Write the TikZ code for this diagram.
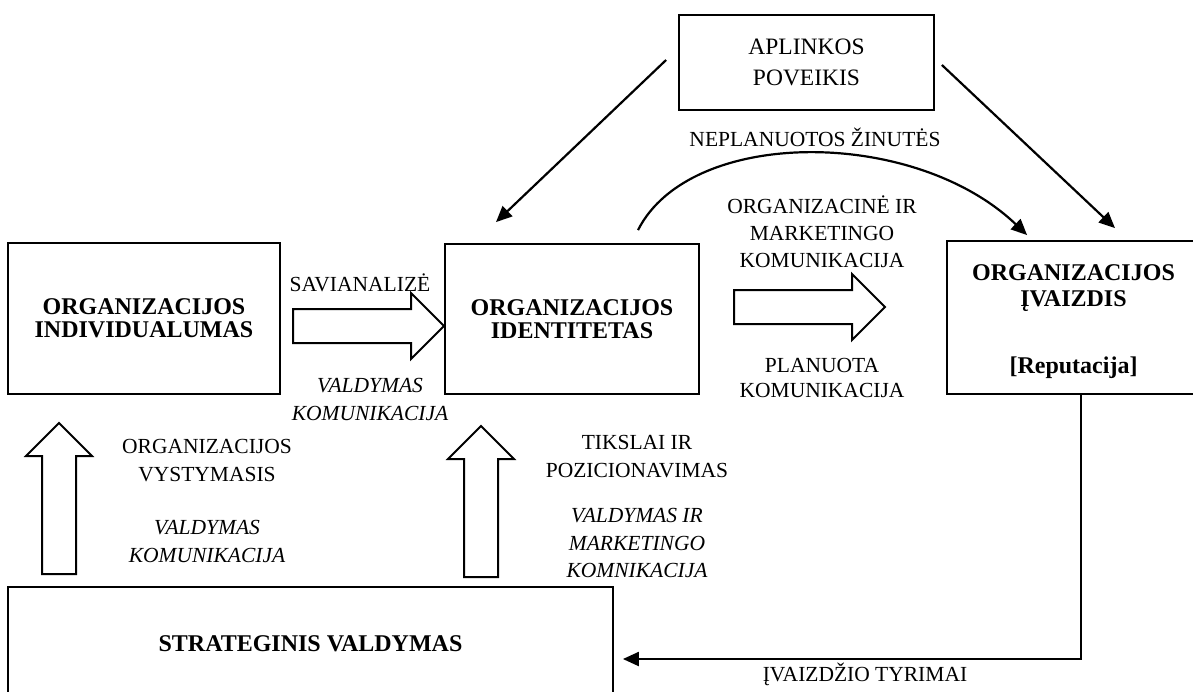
\documentclass[tikz,border=0pt]{standalone}
\usepackage{fontspec}
\setmainfont{Liberation Serif}
\usetikzlibrary{arrows.meta, shapes.arrows}

\begin{document}
\begin{tikzpicture}[x=1pt, y=-1pt,
  box/.style={rectangle, draw, line width=1.8pt, align=center,
     font=\bfseries\fontsize{24}{23}\selectfont},
  lbl/.style={align=center, inner sep=0pt, font=\fontsize{21.5}{28}\selectfont},
  ilbl/.style={lbl, font=\itshape\fontsize{21.5}{28}\selectfont},
  link/.style={line width=2.2pt, -{Triangle[length=16pt, width=14pt]}},
  fatarrow/.style={single arrow, draw, line width=2pt, inner sep=16pt,
     single arrow head extend=16pt, single arrow tip angle=90,
     minimum height=151pt, anchor=tail}]
  \useasboundingbox (0,0) rectangle (1193,691);
  \clip (0,0) rectangle (1193,691);
  % boxes
  \node[box, minimum width=255pt, minimum height=95pt,
     font=\fontsize{23.5}{31}\selectfont] (env) at (806.5,62.5) {APLINKOS\\POVEIKIS};
  \node[box, minimum width=272pt, minimum height=151pt] (indiv) at (144,318.5)
     {ORGANIZACIJOS\\INDIVIDUALUMAS};
  \node[box, minimum width=254pt, minimum height=150pt] (ident) at (572,319)
     {ORGANIZACIJOS\\IDENTITETAS};
  \node[box, minimum width=253pt, minimum height=153pt,
     font=\bfseries\fontsize{24}{26}\selectfont] (image) at (1073.5,317.5)
     {\rule{0pt}{24.5pt}ORGANIZACIJOS\\ĮVAIZDIS\\[41pt]{[Reputacija]}};
  \node[box, minimum width=605pt, minimum height=113pt] (strat) at (310.5,643.5)
     {STRATEGINIS VALDYMAS};
  % block arrows
  \node[fatarrow] (savArrow) at (292,326) {};
  \node[fatarrow] (planArrow) at (733,307) {};
  \node[fatarrow, shape border rotate=90] (vystArrow) at (59,575) {};
  \node[fatarrow, shape border rotate=90] (poziArrow) at (481,578) {};
  % connectors
  \draw[link] ([shift={(-12,-2.5)}]env.west) -- ([shift={(-76,-21)}]ident.north);
  \draw[link] ([shift={(7,2.5)}]env.east) -- ([shift={(41.5,-12)}]image.north);
  \draw[link] ([shift={(66,-13)}]ident.north) .. controls +(52,-103) and +(-113,-108)
     .. ([shift={(81,-5)}]image.north west);
  \draw[link] ([xshift=7.5pt]image.south) |- ([shift={(9,15.5)}]strat.east);
  % labels
  \node[lbl] (lNeplan) at (815,137) {NEPLANUOTOS ŽINUTĖS};
  \node[lbl, font=\fontsize{21.5}{27}\selectfont] (lOrgMark) at (822,232)
     {ORGANIZACINĖ IR\\MARKETINGO\\KOMUNIKACIJA};
  \node[lbl, font=\fontsize{21.5}{25}\selectfont] (lPlan) at (822,377.5)
     {PLANUOTA\\KOMUNIKACIJA};
  \node[lbl] (lSav) at (360,283) {SAVIANALIZĖ};
  \node[ilbl] (lValdKomA) at (370,399) {VALDYMAS\\KOMUNIKACIJA};
  \node[lbl] (lOrgVyst) at (207,461) {ORGANIZACIJOS\\VYSTYMASIS};
  \node[ilbl] (lValdKomB) at (207,541) {VALDYMAS\\KOMUNIKACIJA};
  \node[lbl] (lTiksl) at (637,457) {TIKSLAI IR\\POZICIONAVIMAS};
  \node[ilbl, font=\itshape\fontsize{21.5}{27.5}\selectfont] (lValdMark) at (637,543)
     {VALDYMAS IR\\MARKETINGO\\KOMNIKACIJA};
  \node[lbl] (lTyrimai) at (865,674) {ĮVAIZDŽIO TYRIMAI};
\end{tikzpicture}
\end{document}
